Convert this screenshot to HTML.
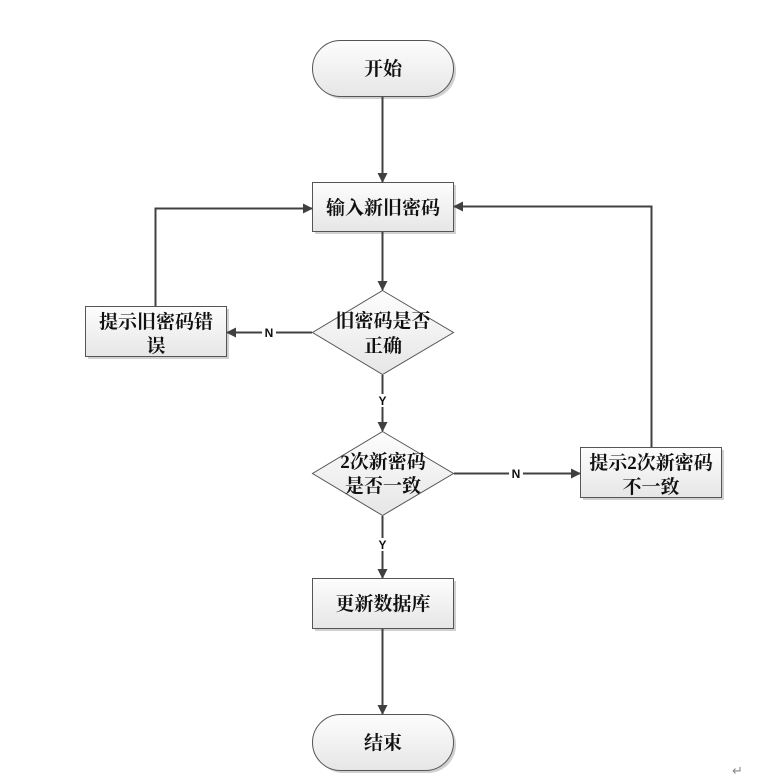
<!DOCTYPE html>
<html><head><meta charset="utf-8"><style>
html,body{margin:0;padding:0;background:#fff;}
svg{display:block}
text{font-family:"Liberation Serif","Noto Serif CJK SC",serif;font-weight:bold;font-size:19px;fill:#111;}
.l{font-family:"Liberation Sans",sans-serif;font-size:12px;font-weight:bold;}
</style></head><body>
<svg width="777" height="782" viewBox="0 0 777 782" xmlns="http://www.w3.org/2000/svg">
<defs>
<linearGradient id="g" x1="0" y1="0" x2="0" y2="1"><stop offset="0" stop-color="#fdfdfd"/><stop offset="1" stop-color="#e6e6e6"/></linearGradient>
<marker id="a" markerWidth="10" markerHeight="10" refX="9" refY="5" orient="auto" markerUnits="userSpaceOnUse"><path d="M0,0 L10,5 L0,10 z" fill="#404040"/></marker>
</defs>
<g fill="#d0d0d0">
<rect x="315" y="43" width="141" height="56" rx="28"/>
<rect x="315" y="185" width="141" height="49"/>
<rect x="88" y="309" width="141" height="50"/>
<rect x="583" y="450" width="141" height="50"/>
<rect x="315" y="581" width="141" height="50"/>
<rect x="315" y="717" width="141" height="56" rx="28"/>
</g>
<g stroke="#555" stroke-width="1" fill="url(#g)">
<rect x="312.5" y="40.5" width="141" height="56" rx="28"/>
<rect x="312.5" y="182.5" width="141" height="49"/>
<polygon points="382.5,290.5 453.5,332.5 382.5,374.5 312.5,332.5"/>
<rect x="85.5" y="306.5" width="141" height="50"/>
<polygon points="382.5,431.5 453.5,473.5 382.5,515.5 312.5,473.5"/>
<rect x="580.5" y="447.5" width="141" height="50"/>
<rect x="312.5" y="578.5" width="141" height="50"/>
<rect x="312.5" y="714.5" width="141" height="56" rx="28"/>
</g>
<g stroke="#404040" stroke-width="2" fill="none" marker-end="url(#a)">
<line x1="382.5" y1="97" x2="382.5" y2="182"/>
<line x1="382.5" y1="232" x2="382.5" y2="290"/>
<line x1="382.5" y1="375" x2="382.5" y2="431"/>
<line x1="312" y1="332.5" x2="227" y2="332.5"/>
<line x1="454" y1="473.5" x2="580" y2="473.5"/>
<line x1="382.5" y1="516" x2="382.5" y2="578"/>
<line x1="382.5" y1="629" x2="382.5" y2="714"/>
<polyline points="155.5,306 155.5,208.5 312,208.5"/>
<polyline points="651.5,447 651.5,206.5 454,206.5"/>
</g>
<g fill="#fff"><rect x="262" y="326" width="14" height="13"/><rect x="376" y="394" width="13" height="13"/><rect x="509" y="467" width="14" height="13"/><rect x="376" y="538" width="13" height="13"/></g>
<text class="l" x="269" y="337" text-anchor="middle">N</text>
<text class="l" x="382.5" y="405" text-anchor="middle">Y</text>
<text class="l" x="516" y="478" text-anchor="middle">N</text>
<text class="l" x="382.5" y="549" text-anchor="middle">Y</text>
<g text-anchor="middle">
<text x="383" y="75">开始</text>
<text x="383" y="214">输入新旧密码</text>
<text x="383" y="327">旧密码是否</text>
<text x="383" y="352">正确</text>
<text x="156" y="328">提示旧密码错</text>
<text x="156" y="352">误</text>
<text x="383" y="468">2次新密码</text>
<text x="383" y="492">是否一致</text>
<text x="651" y="469">提示2次新密码</text>
<text x="651" y="493">不一致</text>
<text x="383" y="610">更新数据库</text>
<text x="383" y="749">结束</text>
</g>
<text x="732" y="775" style="font-weight:normal;font-size:13px;fill:#888">↵</text>
</svg>
</body></html>
